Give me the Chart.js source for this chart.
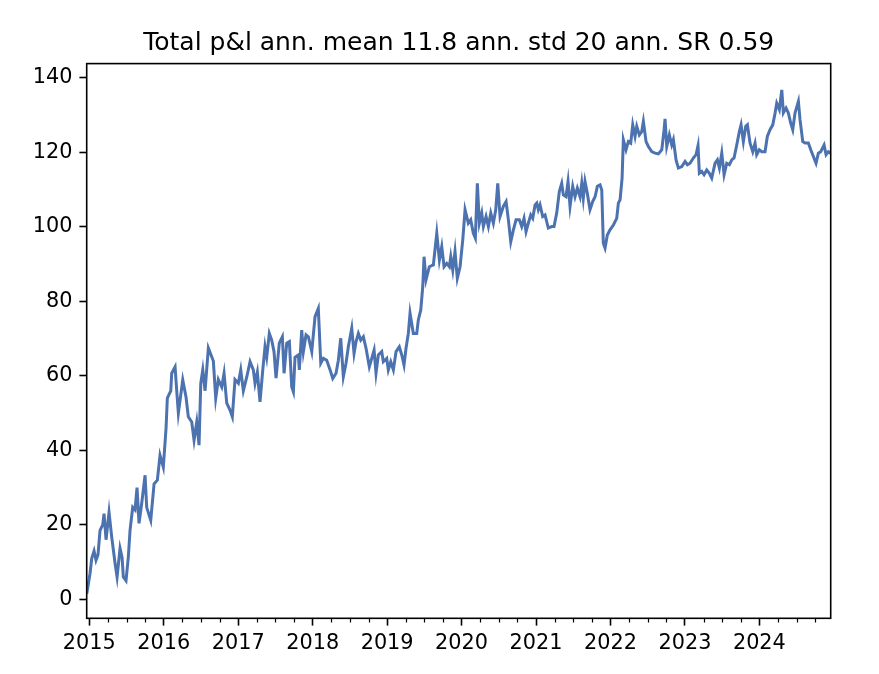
<!DOCTYPE html>
<html>
<head>
<meta charset="utf-8">
<title>Total p&amp;l</title>
<script src="https://cdn.jsdelivr.net/npm/chart.js@4.4.1/dist/chart.umd.min.js"></script>
<style>
  html, body { margin: 0; padding: 0; background: #fff; }
  #pnlChart { display: block; }
</style>
</head>
<body>
<canvas id="pnlChart" width="879" height="674"></canvas>
<script>
// time in decimal years
const years = [
  2014.966, 2015.010, 2015.033, 2015.064, 2015.090, 2015.117, 2015.144, 2015.180, 2015.198, 2015.225,
  2015.265, 2015.301, 2015.346, 2015.373, 2015.413, 2015.440, 2015.457, 2015.493, 2015.524, 2015.547,
  2015.583, 2015.614, 2015.641, 2015.668, 2015.704, 2015.749, 2015.771, 2015.825, 2015.870, 2015.914,
  2015.950, 2015.994, 2016.031, 2016.048, 2016.094, 2016.107, 2016.152, 2016.174, 2016.196, 2016.255,
  2016.299, 2016.330, 2016.376, 2016.407, 2016.443, 2016.474, 2016.497, 2016.524, 2016.555, 2016.599,
  2016.666, 2016.698, 2016.733, 2016.779, 2016.810, 2016.846, 2016.890, 2016.921, 2016.957, 2017.002,
  2017.034, 2017.069, 2017.115, 2017.159, 2017.203, 2017.226, 2017.257, 2017.293, 2017.330, 2017.360,
  2017.383, 2017.418, 2017.450, 2017.481, 2017.508, 2017.552, 2017.593, 2017.616, 2017.652, 2017.687,
  2017.719, 2017.741, 2017.763, 2017.808, 2017.821, 2017.853, 2017.875, 2017.911, 2017.942, 2017.988,
  2018.032, 2018.076, 2018.109, 2018.144, 2018.189, 2018.234, 2018.270, 2018.314, 2018.345, 2018.377,
  2018.412, 2018.448, 2018.479, 2018.525, 2018.556, 2018.583, 2018.614, 2018.646, 2018.681, 2018.717,
  2018.761, 2018.825, 2018.851, 2018.882, 2018.928, 2018.949, 2018.995, 2019.016, 2019.049, 2019.084,
  2019.120, 2019.164, 2019.197, 2019.227, 2019.254, 2019.285, 2019.308, 2019.352, 2019.398, 2019.419,
  2019.452, 2019.479, 2019.496, 2019.523, 2019.567, 2019.621, 2019.667, 2019.702, 2019.734, 2019.765,
  2019.801, 2019.836, 2019.855, 2019.882, 2019.912, 2019.943, 2019.980, 2020.016, 2020.047, 2020.091,
  2020.123, 2020.158, 2020.185, 2020.212, 2020.239, 2020.271, 2020.293, 2020.329, 2020.360, 2020.392,
  2020.427, 2020.459, 2020.486, 2020.517, 2020.561, 2020.598, 2020.629, 2020.661, 2020.696, 2020.732,
  2020.776, 2020.808, 2020.839, 2020.866, 2020.897, 2020.929, 2020.956, 2020.987, 2021.010, 2021.031,
  2021.054, 2021.090, 2021.121, 2021.165, 2021.211, 2021.242, 2021.278, 2021.313, 2021.345, 2021.367,
  2021.403, 2021.430, 2021.457, 2021.493, 2021.524, 2021.555, 2021.591, 2021.614, 2021.635, 2021.658,
  2021.689, 2021.725, 2021.761, 2021.793, 2021.824, 2021.860, 2021.883, 2021.904, 2021.927, 2021.958,
  2021.994, 2022.039, 2022.084, 2022.106, 2022.129, 2022.156, 2022.173, 2022.209, 2022.240, 2022.272,
  2022.299, 2022.330, 2022.353, 2022.388, 2022.420, 2022.442, 2022.478, 2022.509, 2022.554, 2022.598,
  2022.643, 2022.689, 2022.720, 2022.733, 2022.756, 2022.791, 2022.823, 2022.845, 2022.881, 2022.912,
  2022.958, 2023.002, 2023.033, 2023.069, 2023.113, 2023.150, 2023.176, 2023.194, 2023.226, 2023.257,
  2023.293, 2023.328, 2023.360, 2023.405, 2023.436, 2023.463, 2023.495, 2023.526, 2023.562, 2023.597,
  2023.629, 2023.660, 2023.696, 2023.731, 2023.754, 2023.785, 2023.817, 2023.839, 2023.875, 2023.911,
  2023.942, 2023.964, 2023.999, 2024.032, 2024.076, 2024.107, 2024.143, 2024.180, 2024.211, 2024.233,
  2024.268, 2024.301, 2024.322, 2024.358, 2024.389, 2024.421, 2024.448, 2024.479, 2024.524, 2024.546,
  2024.583, 2024.614, 2024.658, 2024.690, 2024.725, 2024.761, 2024.792, 2024.824, 2024.869, 2024.896,
  2024.927, 2024.958
];

// cumulative p&l
const pnl = [
  1.5, 7, 11, 13, 10.5, 12, 18.5, 20, 23, 16,
  23.4, 16.7, 9.7, 6, 13.7, 11.3, 6, 5, 11.3, 18.5,
  24.7, 24, 30, 20.4, 25.8, 33.3, 24.7, 21.2, 31, 32,
  38.7, 35.5, 46, 54, 56, 60.7, 62.4, 56, 50, 58.9,
  54.3, 49, 47.6, 42.7, 47.6, 41.4, 58, 61.6, 56, 67.5,
  64, 54, 59, 57, 60.7, 52.7, 50.8, 49, 59, 58,
  61.6, 56, 59.7, 63.8, 61.6, 58, 61, 53, 61.6, 67.8,
  65, 71.4, 69.6, 66.5, 59.4, 68.8, 70.5, 60.7, 68.8, 69.2,
  57, 55.7, 65, 65.6, 61.6, 72.3, 66.5, 71, 70.5, 66.5,
  75.9, 78.1, 63.4, 64.7, 64.2, 61.6, 59.3, 60.7, 64.2, 70.1,
  59.8, 63.4, 67.8, 72.8, 66, 69.2, 71.4, 69.6, 70.5, 67.4,
  62.4, 66.9, 60.7, 65.6, 66.5, 63.8, 64.7, 61.6, 63.8, 61.6,
  66.5, 67.8, 65.6, 62.9, 67.4, 71.4, 76.8, 71.4, 71.4, 75,
  77.7, 84, 92, 85.8, 89.3, 89.8, 98.3, 91.1, 94.7, 89.3,
  90.2, 89.3, 92, 88.4, 93.4, 86.2, 89.3, 96.5, 104.6, 101,
  101.9, 98.3, 97, 111.7, 101, 103.7, 100.1, 102.8, 100.1, 103.7,
  101, 104.6, 111.7, 102.8, 105.5, 106.8, 101.9, 96, 99.2, 101.9,
  101.9, 100.1, 102.3, 98.7, 101, 103.2, 102.3, 105.9, 106.4, 104.6,
  105.9, 102.8, 103.2, 99.7, 100.1, 100.1, 103.7, 109.5, 111.7, 108.6,
  108.1, 112.2, 105.5, 110.9, 108.1, 110.4, 108.1, 111.7, 107.7, 112.2,
  109, 104.6, 106.8, 108.1, 110.9, 111.3, 109.9, 95.6, 94.3, 97.8,
  99.2, 100.5, 102.3, 106.4, 107.3, 113.1, 123.4, 120.7, 122.9, 122.5,
  127.4, 124.3, 127, 124.7, 125.6, 128.3, 122.9, 121.6, 120.2, 119.8,
  119.6, 120.7, 126.1, 129, 121.6, 124.7, 122, 123.4, 118, 115.8,
  116.2, 117.6, 116.7, 117.1, 118.5, 119.4, 121.8, 114.4, 114.9, 114,
  115.3, 114.4, 113.1, 117.1, 118, 115.8, 119.8, 114, 117.1, 116.7,
  118, 118.5, 122, 125.6, 127.4, 122.9, 127, 127.4, 122.5, 120.2,
  122.5, 119.4, 120.7, 120.2, 120.2, 124.3, 126.1, 127.4, 130.6, 133.2,
  131.5, 136.8, 130.6, 131.9, 130.6, 127.9, 126.1, 130.6, 133.7, 128.8,
  122.9, 122.5, 122.5, 120.7, 118.9, 117.1, 119.8, 120.2, 122, 119.4,
  120.2, 119.8
];

const yearTicks = [2015, 2016, 2017, 2018, 2019, 2020, 2021, 2022, 2023, 2024];
const quarterOffsets = [0.25, 0.5, 0.75];
const yTicks = [0, 20, 40, 60, 80, 100, 120, 140];
const titleText = 'Total p&l ann. mean 11.8 ann. std 20 ann. SR 0.59';

(function(){
  'use strict';

  Chart.defaults.font.family = "'DejaVu Sans', sans-serif";
  Chart.defaults.color = '#000';

  const points = years.map((t, i) => ({ x: t, y: pnl[i] }));
  const quarterTicks = [];
  yearTicks.concat([yearTicks[0] - 1]).forEach(y => quarterOffsets.forEach(q => quarterTicks.push(y + q)));

  // matplotlib-like frame on all four sides plus short quarterly ticks
  const framePlugin = {
    id: 'framePlugin',
    afterDraw(chart){
      const a = chart.chartArea;
      const ctx = chart.ctx;
      const xs = chart.scales.x;
      ctx.save();
      ctx.strokeStyle = '#000';
      ctx.lineWidth = 1.2;
      ctx.beginPath();
      quarterTicks.forEach(v => {
        if (v < xs.min || v > xs.max) return;
        const px = Math.round(xs.getPixelForValue(v)) + 0.5;
        ctx.moveTo(px, a.bottom);
        ctx.lineTo(px, a.bottom + 4.2);
      });
      ctx.stroke();
      ctx.lineWidth = 1.6;
      ctx.strokeRect(a.left, a.top, a.right - a.left, a.bottom - a.top);
      ctx.restore();
    }
  };

  const ctx = document.getElementById('pnlChart').getContext('2d');
  new Chart(ctx, {
    type: 'line',
    data: {
      datasets: [{
        label: 'p&l',
        data: points,
        borderColor: '#4c72b0',
        backgroundColor: '#4c72b0',
        borderWidth: 3,
        pointRadius: 0,
        tension: 0,
        fill: false
      }]
    },
    options: {
      responsive: false,
      animation: false,
      devicePixelRatio: 1,
      layout: { padding: { left: 0, right: 48.3, top: 0, bottom: 0 } },
      scales: {
        x: {
          type: 'linear',
          min: 2014.965,
          max: 2024.958,
          afterFit: s => { s.height = 55.7; },
          afterBuildTicks: s => { s.ticks = yearTicks.map(v => ({ value: v })); },
          border: { display: false },
          grid: { drawOnChartArea: false, drawTicks: true, tickLength: 7.3, tickWidth: 1.6, tickColor: '#000' },
          ticks: {
            autoSkip: false, maxRotation: 0, padding: 6,
            font: { size: 20.8 }, color: '#000',
            callback: v => String(v)
          }
        },
        y: {
          type: 'linear',
          min: -5.1,
          max: 143.85,
          afterFit: s => { s.width = 86.7; },
          afterBuildTicks: s => { s.ticks = yTicks.map(v => ({ value: v })); },
          border: { display: false },
          grid: { drawOnChartArea: false, drawTicks: true, tickLength: 7.3, tickWidth: 1.6, tickColor: '#000' },
          ticks: { padding: 7, font: { size: 20.8 }, color: '#000', callback: v => String(v) }
        }
      },
      plugins: {
        legend: { display: false },
        tooltip: { enabled: false },
        title: {
          display: true,
          text: titleText,
          fullSize: false,
          color: '#000',
          font: { size: 25, weight: 'normal' },
          padding: { top: 28.5, bottom: 5.1 }
        }
      }
    },
    plugins: [framePlugin]
  });
})();
</script>
</body>
</html>
